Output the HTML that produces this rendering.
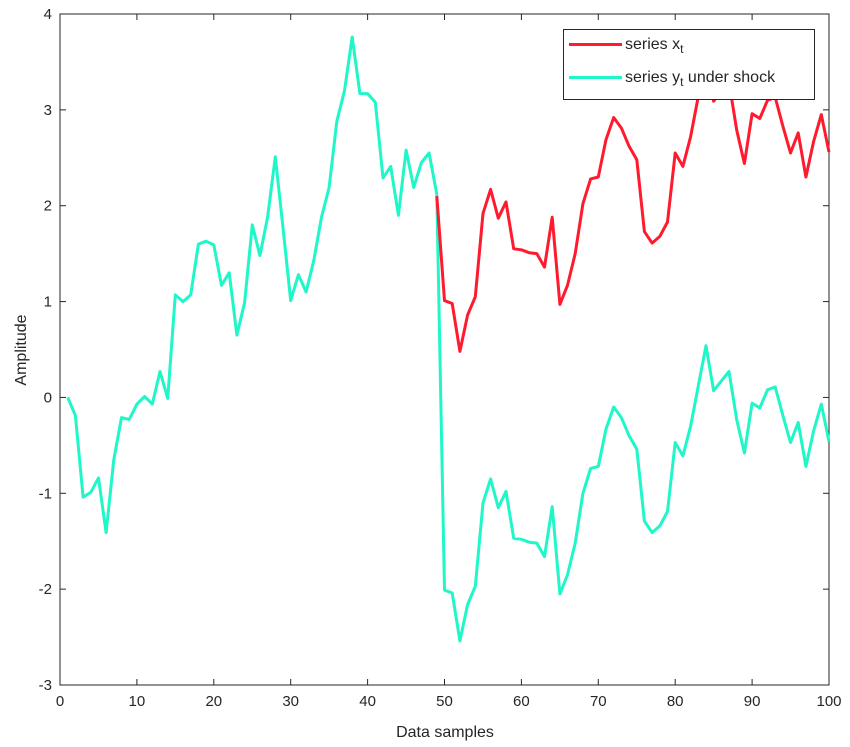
<!DOCTYPE html>
<html><head><meta charset="utf-8"><style>
body{margin:0;background:#fff;}
svg{display:block;font-family:"Liberation Sans",sans-serif;}
</style></head><body>
<svg id="chart" width="850" height="747"></svg>
<script>
const xTicks=[0,10,20,30,40,50,60,70,80,90,100];
const yTicks=[-3,-2,-1,0,1,2,3,4];
const seriesX=[2.1,1.01,0.98,0.48,0.86,1.05,1.92,2.17,1.87,2.04,1.55,1.54,1.51,1.5,1.36,1.88,0.97,1.17,1.5,2.02,2.28,2.3,2.69,2.92,2.81,2.62,2.48,1.73,1.61,1.68,1.83,2.55,2.41,2.72,3.14,3.56,3.09,3.19,3.29,2.79,2.44,2.96,2.91,3.1,3.13,2.83,2.55,2.76,2.3,2.67,2.95,2.56];
const seriesXStart=49;
const seriesY=[0.0,-0.19,-1.04,-0.99,-0.84,-1.41,-0.65,-0.21,-0.23,-0.07,0.01,-0.07,0.27,-0.01,1.07,1.0,1.07,1.6,1.63,1.59,1.17,1.3,0.65,0.99,1.8,1.48,1.88,2.51,1.77,1.01,1.28,1.1,1.43,1.88,2.19,2.88,3.2,3.76,3.17,3.17,3.08,2.29,2.41,1.9,2.58,2.19,2.45,2.55,2.12,
-2.01,-2.04,-2.54,-2.16,-1.97,-1.10,-0.85,-1.15,-0.98,-1.47,-1.48,-1.51,-1.52,-1.66,-1.14,-2.05,-1.85,-1.52,-1.00,-0.74,-0.72,-0.33,-0.10,-0.21,-0.40,-0.54,-1.29,-1.41,-1.34,-1.19,-0.47,-0.61,-0.30,0.12,0.54,0.07,0.17,0.27,-0.23,-0.58,-0.06,-0.11,0.08,0.11,-0.19,-0.47,-0.26,-0.72,-0.35,-0.07,-0.46];
const seriesYStart=1;

const L=60,R=829,T=14,B=685;
const sx=v=>L+(v-0)/(100-0)*(R-L);
const sy=v=>B-(v+3)/7*(B-T);
const svg=document.getElementById('chart');
const NS='http://www.w3.org/2000/svg';
function mk(tag,attrs){const e=document.createElementNS(NS,tag);for(const k in attrs)e.setAttribute(k,attrs[k]);svg.appendChild(e);return e;}

const frame=mk('rect',{x:L,y:T,width:R-L,height:B-T,fill:'none',stroke:'#262626','stroke-width':1});



xTicks.forEach(t=>{
  const x=sx(t);
  const a=mk('line',{x1:x,x2:x,y1:B,y2:B-6,stroke:'#262626'});
  
  
  const b=mk('line',{x1:x,x2:x,y1:T,y2:T+6,stroke:'#262626'});
  
  
  const tx=mk('text',{x:x,y:B+21,'text-anchor':'middle','font-size':15,fill:'#262626'});
  tx.textContent=t;
  
  
});
yTicks.forEach(t=>{
  const y=sy(t);
  const a=mk('line',{x1:L,x2:L+6,y1:y,y2:y,stroke:'#262626'});
  
  
  const b=mk('line',{x1:R,x2:R-6,y1:y,y2:y,stroke:'#262626'});
  
  
  const tx=mk('text',{x:L-8,y:y+5,'text-anchor':'end','font-size':15,fill:'#262626'});
  tx.textContent=t;
  
  
});

function pts(arr,start){return arr.map((v,i)=>sx(start+i).toFixed(1)+','+sy(v).toFixed(1)).join(' ');}
const ly=mk('polyline',{points:pts(seriesY,seriesYStart),fill:'none',stroke:'#1ff7c8','stroke-width':3,'stroke-linejoin':'round'});


const lx=mk('polyline',{points:pts(seriesX,seriesXStart),fill:'none',stroke:'#ff1a2e','stroke-width':3,'stroke-linejoin':'round'});



const xl=mk('text',{x:445,y:737,'text-anchor':'middle','font-size':16,fill:'#262626'});
xl.textContent='Data samples';


const yl=mk('text',{x:0,y:0,'text-anchor':'middle','font-size':16,fill:'#262626',transform:'translate(26,350) rotate(-90)'});
yl.textContent='Amplitude';


</script>
<div style="position:absolute;left:563px;top:29px;width:252px;height:71px;border:1px solid #262626;background:#fff;box-sizing:border-box;font-family:'Liberation Sans',sans-serif;font-size:16px;color:#262626;">
  <div style="position:absolute;left:5px;top:6px;white-space:nowrap;"><span style="display:inline-block;width:53px;height:3px;background:#ff1a2e;vertical-align:middle;margin-right:3px;"></span>series x<sub style="font-size:12px">t</sub></div>
  <div style="position:absolute;left:5px;top:39px;white-space:nowrap;"><span style="display:inline-block;width:53px;height:3px;background:#1ff7c8;vertical-align:middle;margin-right:3px;"></span>series y<sub style="font-size:12px">t</sub> under shock</div>
</div>
</body></html>
